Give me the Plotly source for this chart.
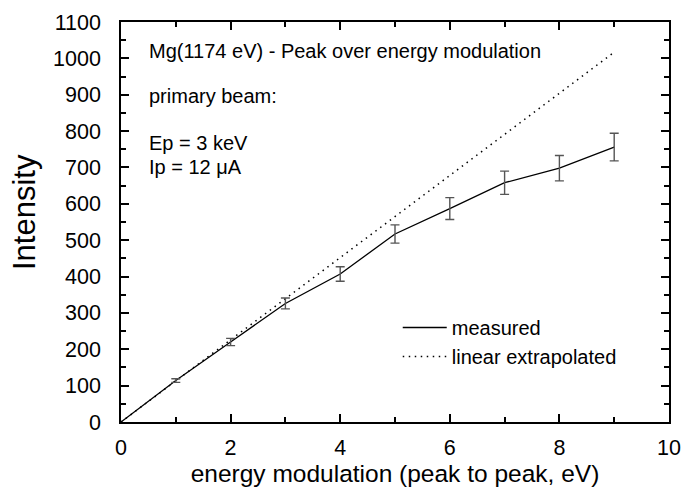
import plotly.graph_objects as go

# Measured peak intensity vs. energy modulation (peak to peak)
measured_x = [0, 1, 2, 3, 4, 5, 6, 7, 8, 9]
measured_y = [0, 114, 220, 326, 407, 517, 587, 658, 698, 756]
measured_err = [0, 5, 10, 15, 20, 25, 30, 32, 35, 38]

# Linear extrapolation of the low-modulation slope
linear_x = [0, 9]
linear_y = [0, 1017]

# Info text inside the plot
title_text = "Mg(1174 eV) - Peak over energy modulation"
info_lines = ["primary beam:", "Ep = 3 keV", "Ip = 12 \u03bcA"]

x_ticks = [0, 2, 4, 6, 8, 10]
y_ticks = list(range(0, 1101, 100))

FONT = "Liberation Sans, Arial, sans-serif"

fig = go.Figure()

fig.add_trace(go.Scatter(
    x=measured_x, y=measured_y, mode="lines", name="measured",
    line=dict(color="black", width=1.3), hoverinfo="skip",
))
fig.add_trace(go.Scatter(
    x=linear_x, y=linear_y, mode="lines", name="linear extrapolated",
    line=dict(color="black", width=1.5, dash="1.5px,4.5px"), hoverinfo="skip",
))
# Error bars drawn on their own so the legend keeps plain line samples
fig.add_trace(go.Scatter(
    x=measured_x[1:], y=measured_y[1:], mode="markers", showlegend=False,
    marker=dict(size=2, color="rgba(0,0,0,0)"), hoverinfo="skip",
    error_y=dict(type="data", array=measured_err[1:], visible=True,
                 color="#555555", thickness=1.4, width=4.5),
))

axis_common = dict(
    showline=True, linecolor="black", linewidth=1.5, mirror="ticks",
    ticks="inside", ticklen=8, tickwidth=1.5, tickcolor="black",
    showgrid=False, zeroline=False,
    tickfont=dict(family=FONT, size=21.5, color="black"),
)

fig.update_xaxes(
    range=[0, 10], tickvals=x_ticks,
    minor=dict(ticks="inside", ticklen=5, tickwidth=1.5, tickcolor="black", dtick=1),
    title=dict(text="energy modulation (peak to peak, eV)",
               font=dict(family=FONT, size=24.5, color="black"), standoff=2),
    ticklabelstandoff=5,
    **axis_common,
)
fig.update_yaxes(
    range=[0, 1100], tickvals=y_ticks,
    minor=dict(ticks="inside", ticklen=5, tickwidth=1.5, tickcolor="black", dtick=50),
    ticklabelstandoff=14,
    **axis_common,
)

annotations = [dict(
    text="Intensity", xref="paper", yref="paper", x=-0.177, y=0.525,
    xanchor="center", yanchor="middle", textangle=-90, showarrow=False,
    font=dict(family=FONT, size=31, color="black"),
), dict(
    text=title_text, xref="paper", yref="paper", x=0.047, y=0.9275,
    xanchor="left", yanchor="middle", showarrow=False,
    font=dict(family=FONT, size=20, color="black"),
)]
for txt, yy in zip(info_lines, [0.815, 0.6975, 0.6375]):
    annotations.append(dict(
        text=txt, xref="paper", yref="paper", x=0.047, y=yy,
        xanchor="left", yanchor="middle", showarrow=False,
        font=dict(family=FONT, size=20, color="black"),
    ))

fig.update_layout(
    width=687, height=490,
    margin=dict(l=121, r=18, t=22, b=68, autoexpand=False),
    paper_bgcolor="white", plot_bgcolor="white",
    font=dict(family=FONT, color="black"),
    showlegend=True,
    legend=dict(x=0.505, y=0.285, xanchor="left", yanchor="top",
                bgcolor="rgba(0,0,0,0)", font=dict(family=FONT, size=20, color="black"),
                tracegroupgap=0, itemwidth=44),
    annotations=annotations,
)

fig.write_html("out.html")
